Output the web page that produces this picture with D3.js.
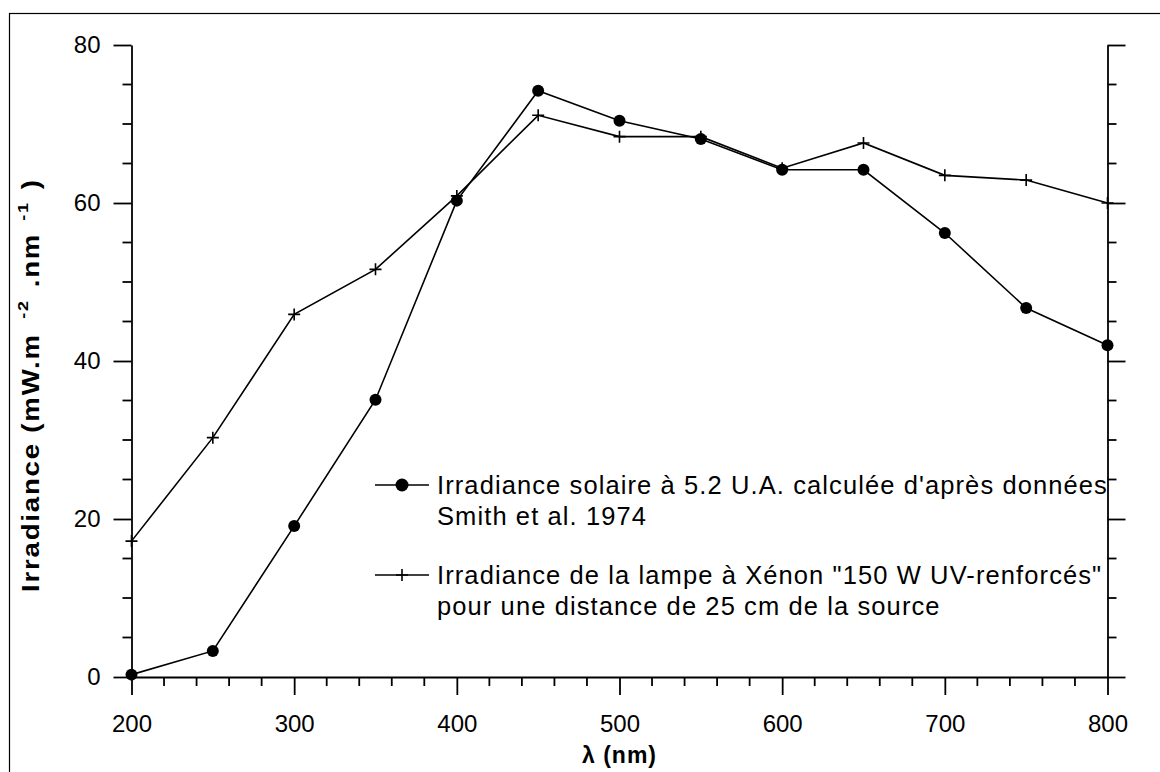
<!DOCTYPE html>
<html><head><meta charset="utf-8">
<script src="https://cdn.jsdelivr.net/npm/d3@7"></script>
<style>body{margin:0;background:#fff}svg{display:block}text{font-family:"Liberation Sans",Arial,sans-serif;fill:#000}</style>
</head><body>
<script>
const wavelengths = [200,250,300,350,400,450,500,550,600,650,700,750,800];
const solar = [0.3,3.3,19.1,35.1,60.3,74.2,70.4,68.1,64.2,64.2,56.2,46.7,42.0];
const xenon = [17.2,30.3,45.9,51.6,60.9,71.1,68.4,68.4,64.4,67.6,63.5,62.9,60.0];
const xTicks = [200,300,400,500,600,700,800];
const yTicks = [0,20,40,60,80];
const legendLabels = [
  ["Irradiance solaire à 5.2 U.A. calculée d'après données","Smith et al. 1974"],
  ["Irradiance de la lampe à Xénon \"150 W UV-renforcés\"","pour une distance de 25 cm de la source"]
];

const W=1160,H=772;
const svg=d3.select("body").append("svg").attr("width",W).attr("height",H);
svg.append("rect").attr("x",9.5).attr("y",13.5).attr("width",W).attr("height",H).attr("fill","none").attr("stroke","#000").attr("stroke-width",1.2);

const x=d3.scaleLinear().domain([200,800]).range([131.5,1107.5]);
const y=d3.scaleLinear().domain([0,80]).range([677,45]);

const axisStyle=g=>{g.select(".domain").attr("stroke","#000").attr("stroke-width",1.8);
  g.selectAll(".tick line").attr("stroke","#000").attr("stroke-width",1.8);
  g.selectAll("text").style("font-size","24px").style("font-family","'Liberation Sans',Arial,sans-serif");};

const xMinor=d3.range(200,801,20).filter(v=>v%100!==0);
const yMinor=d3.range(0,81,5).filter(v=>v%20!==0);

const gx=svg.append("g").attr("transform",`translate(0,${y(0)})`)
  .call(d3.axisBottom(x).tickValues(xTicks).tickSize(18).tickSizeOuter(0).tickPadding(20));
axisStyle(gx);
gx.selectAll(".minor").data(xMinor).enter().append("line")
  .attr("x1",d=>x(d)).attr("x2",d=>x(d)).attr("y1",0).attr("y2",9).attr("stroke","#000").attr("stroke-width",1.8);

const gy=svg.append("g").attr("transform",`translate(${x(200)},0)`)
  .call(d3.axisLeft(y).tickValues(yTicks).tickSize(18).tickSizeOuter(0).tickPadding(13));
axisStyle(gy);
gy.selectAll(".minor").data(yMinor).enter().append("line")
  .attr("y1",d=>y(d)).attr("y2",d=>y(d)).attr("x1",0).attr("x2",-9).attr("stroke","#000").attr("stroke-width",1.8);

const gr=svg.append("g").attr("transform",`translate(${x(800)},0)`)
  .call(d3.axisRight(y).tickValues(yTicks).tickSize(18).tickSizeOuter(0).tickFormat(""));
axisStyle(gr);
gr.selectAll(".minor").data(yMinor).enter().append("line")
  .attr("y1",d=>y(d)).attr("y2",d=>y(d)).attr("x1",0).attr("x2",9).attr("stroke","#000").attr("stroke-width",1.8);

const line=d3.line().x(d=>x(d[0])).y(d=>y(d[1]));
const solarPts=wavelengths.map((w,i)=>[w,solar[i]]);
const xenonPts=wavelengths.map((w,i)=>[w,xenon[i]]);
svg.append("path").attr("d",line(xenonPts)).attr("fill","none").attr("stroke","#000").attr("stroke-width",1.6);
svg.append("path").attr("d",line(solarPts)).attr("fill","none").attr("stroke","#000").attr("stroke-width",1.6);

const crossPath=(cx,cy,s)=>`M${cx-s},${cy}H${cx+s}M${cx},${cy-s}V${cy+s}`;
svg.append("g").selectAll("path").data(xenonPts).enter().append("path")
  .attr("d",d=>crossPath(x(d[0]),y(d[1]),6)).attr("stroke","#000").attr("stroke-width",1.6);
svg.append("g").selectAll("circle").data(solarPts).enter().append("circle")
  .attr("cx",d=>x(d[0])).attr("cy",d=>y(d[1])).attr("r",6).attr("fill","#000");

const leg=[{y:485,type:"circle"},{y:575,type:"cross"}];
leg.forEach((l,i)=>{
  svg.append("line").attr("x1",375).attr("x2",429).attr("y1",l.y).attr("y2",l.y).attr("stroke","#000").attr("stroke-width",1.6);
  if(l.type==="circle") svg.append("circle").attr("cx",402).attr("cy",l.y).attr("r",6.5).attr("fill","#000");
  else svg.append("path").attr("d",crossPath(402,l.y,6)).attr("stroke","#000").attr("stroke-width",1.6);
  legendLabels[i].forEach((t,j)=>{
    svg.append("text").attr("x",437).attr("y",l.y+9+j*31).style("font-size","25.5px").style("letter-spacing","1.1px").text(t);
  });
});

svg.append("text").attr("x",x(500)).attr("y",763).attr("text-anchor","middle")
  .style("font-size","23px").style("font-weight","bold").style("letter-spacing","1px").text("λ (nm)");
const yt=svg.append("text").attr("transform",`translate(39,592) rotate(-90) scale(1.2,1)`).attr("text-anchor","start")
  .style("font-size","23px").style("font-weight","bold").style("letter-spacing","1.5px");
yt.append("tspan").text("Irradiance (mW.m");
yt.append("tspan").attr("dx",12).attr("dy",-11).style("font-size","15px").text("-2");
yt.append("tspan").attr("dx",10).attr("dy",11).text(".nm");
yt.append("tspan").attr("dx",10).attr("dy",-11).style("font-size","15px").text("-1");
yt.append("tspan").attr("dx",10).attr("dy",11).text(")");
</script>
</body></html>
